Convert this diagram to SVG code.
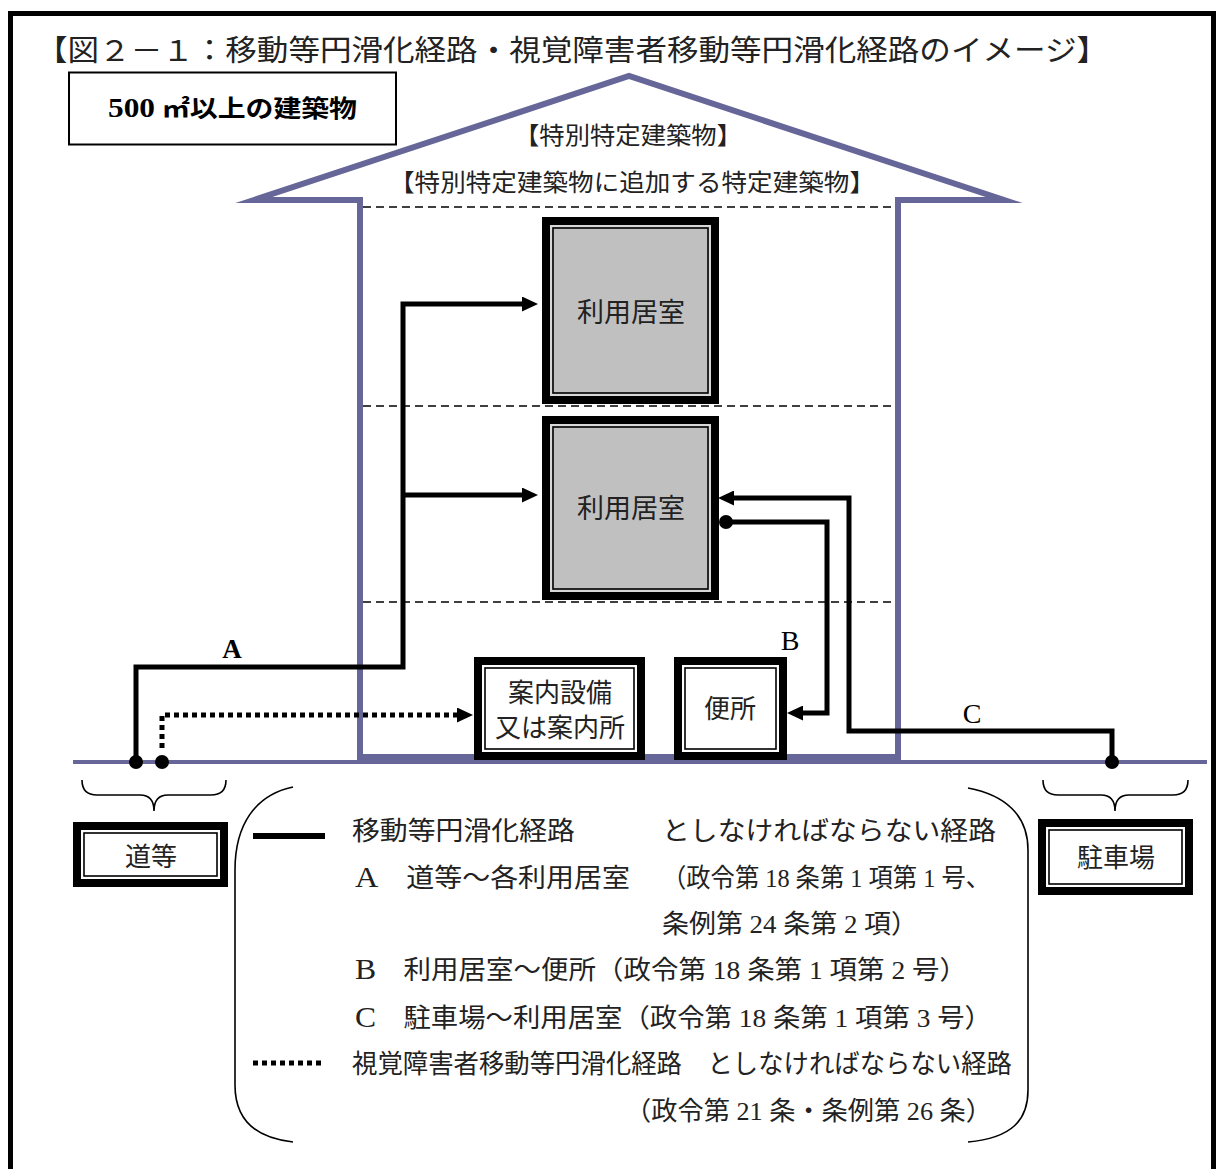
<svg xmlns="http://www.w3.org/2000/svg" width="1219" height="1169" viewBox="0 0 1219 1169">
<defs>
<style>
.jp{font-family:"Noto Sans CJK JP","Liberation Sans",sans-serif;fill:#222}
.mx{font-family:"Liberation Serif","Noto Sans CJK JP",serif;fill:#222}
.mx tspan{font-size:30px}
.lt{font-family:"Liberation Serif","Noto Sans CJK JP",serif;fill:#000}
.path{fill:none;stroke:#000;stroke-width:5;stroke-linejoin:miter}
.dot{fill:none;stroke:#000;stroke-width:5;stroke-dasharray:5 4}
.dash{stroke:#000;stroke-width:1.5;stroke-dasharray:8 5}
.house{fill:none;stroke:#666699;stroke-width:6;stroke-miterlimit:10}
.ob{stroke:#000;stroke-width:8}
.ib{fill:none;stroke:#000;stroke-width:1.6}
.brace{fill:none;stroke:#000;stroke-width:1.6}
</style>
<marker id="arr" viewBox="0 0 16 15" markerWidth="16" markerHeight="15" refX="6" refY="7.5" orient="auto" markerUnits="userSpaceOnUse">
<path d="M0,0 L16,7.5 L0,15 z" fill="#000"/>
</marker>
<marker id="ball" viewBox="0 0 14 14" markerWidth="14" markerHeight="14" refX="7" refY="7" orient="auto" markerUnits="userSpaceOnUse">
<circle cx="7" cy="7" r="7" fill="#000"/>
</marker>
</defs>
<rect x="0" y="0" width="1219" height="1169" fill="#fff"/>
<rect x="10.5" y="13.5" width="1203" height="1200" fill="none" stroke="#000" stroke-width="5"/>

<text class="jp" x="36" y="61" font-size="29" textLength="1072" lengthAdjust="spacingAndGlyphs">【図２－１：移動等円滑化経路・視覚障害者移動等円滑化経路のイメージ】</text>

<g id="building-label">
<rect x="69" y="72.5" width="327" height="72" fill="#fff" stroke="#000" stroke-width="2"/>
<text class="lt" x="108" y="117" font-size="24" font-weight="bold" textLength="249" lengthAdjust="spacingAndGlyphs"><tspan font-size="27">500</tspan> ㎡以上の建築物</text>
</g>

<g id="house">
<polygon class="house" points="360,757 360,200 254,200 629,76 1004,200 898,200 898,757"/>
<line x1="73" y1="762" x2="1207" y2="762" stroke="#666699" stroke-width="4"/>
<line class="dash" x1="363" y1="207" x2="895" y2="207"/>
<line class="dash" x1="363" y1="406" x2="895" y2="406"/>
<line class="dash" x1="363" y1="602" x2="895" y2="602"/>
<text class="jp" x="628" y="144" font-size="24" text-anchor="middle" textLength="228" lengthAdjust="spacingAndGlyphs">【特別特定建築物】</text>
<text class="jp" x="632" y="191" font-size="24" text-anchor="middle" textLength="486" lengthAdjust="spacingAndGlyphs">【特別特定建築物に追加する特定建築物】</text>
</g>

<g id="room1">
<rect class="ob" x="546" y="221" width="169" height="179" fill="#C0C0C0"/>
<rect x="551" y="226" width="159" height="169" fill="none" stroke="#d8d8d8" stroke-width="2"/>
<rect class="ib" x="553" y="228" width="155" height="165"/>
<text class="jp" x="631" y="322" font-size="27" text-anchor="middle">利用居室</text>
</g>

<g id="room2">
<rect class="ob" x="546" y="420" width="169" height="176" fill="#C0C0C0"/>
<rect x="551" y="425" width="159" height="166" fill="none" stroke="#d8d8d8" stroke-width="2"/>
<rect class="ib" x="553" y="427" width="155" height="162"/>
<text class="jp" x="631" y="518" font-size="27" text-anchor="middle">利用居室</text>
</g>

<g id="guide">
<rect class="ob" x="478" y="661" width="163" height="95" fill="#fff"/>
<rect class="ib" x="485" y="668" width="149" height="81"/>
<text class="jp" x="560" y="702" font-size="26" text-anchor="middle">案内設備</text>
<text class="jp" x="560" y="737" font-size="26" text-anchor="middle">又は案内所</text>
</g>

<g id="toilet">
<rect class="ob" x="678" y="661" width="105" height="95" fill="#fff"/>
<rect class="ib" x="685" y="668" width="91" height="81"/>
<text class="jp" x="730" y="718" font-size="26" text-anchor="middle">便所</text>
</g>

<g id="road">
<rect class="ob" x="77" y="826" width="147" height="57" fill="#fff"/>
<rect class="ib" x="84" y="833" width="133" height="43"/>
<text class="jp" x="151" y="866" font-size="26" text-anchor="middle">道等</text>
</g>

<g id="parking">
<rect class="ob" x="1042" y="823" width="147" height="68" fill="#fff"/>
<rect class="ib" x="1049" y="830" width="133" height="54"/>
<text class="jp" x="1116" y="867" font-size="26" text-anchor="middle">駐車場</text>
</g>

<g id="connectors">
<path class="path" d="M136,762 L136,667 L403,667 L403,304 L528,304" marker-start="url(#ball)" marker-end="url(#arr)"/>
<path class="path" d="M403,495 L528,495" marker-end="url(#arr)"/>
<path class="dot" d="M162,748 L162,715 L463,715" marker-end="url(#arr)"/>
<circle cx="162" cy="762" r="7" fill="#000"/>
<path class="path" d="M726,522 L827,522 L827,713 L797,713" marker-start="url(#ball)" marker-end="url(#arr)"/>
<path class="path" d="M1112,762 L1112,731 L849,731 L849,498 L728,498" marker-start="url(#ball)" marker-end="url(#arr)"/>
<text class="lt" x="232" y="658" font-size="27" font-weight="bold" text-anchor="middle">A</text>
<text class="lt" x="790" y="650" font-size="28" text-anchor="middle">B</text>
<text class="lt" x="972" y="723" font-size="28" text-anchor="middle">C</text>
</g>

<g id="braces">
<path class="brace" d="M82,780 Q82,795 97,795 L140,795 Q154,795 154,811 Q154,795 168,795 L211,795 Q226,795 226,780"/>
<path class="brace" d="M1043,780 Q1043,795 1058,795 L1101,795 Q1115,795 1115,811 Q1115,795 1129,795 L1173,795 Q1188,795 1188,780"/>
</g>

<g id="legend">
<path class="brace" d="M293,787 C255,795 235,825 235,870 L235,1085 C235,1120 255,1138 293,1142"/>
<path class="brace" d="M968,788 C1005,795 1028,815 1028,850 L1028,1090 C1028,1120 1012,1138 968,1142"/>
<line x1="253" y1="836" x2="325" y2="836" stroke="#000" stroke-width="6"/>
<line x1="253" y1="1063" x2="323" y2="1063" class="dot"/>
<text class="jp" x="352" y="840" font-size="26" textLength="223" lengthAdjust="spacingAndGlyphs">移動等円滑化経路</text>
<text class="jp" x="662" y="840" font-size="26" textLength="334" lengthAdjust="spacingAndGlyphs">としなければならない経路</text>
<text class="mx" x="355" y="887" font-size="26" textLength="275" lengthAdjust="spacingAndGlyphs"><tspan>A</tspan>　道等～各利用居室</text>
<text class="mx" x="662" y="887" font-size="26" textLength="328" lengthAdjust="spacingAndGlyphs">（政令第 18 条第 1 項第 1 号、</text>
<text class="mx" x="662" y="933" font-size="26" textLength="256" lengthAdjust="spacingAndGlyphs">条例第 24 条第 2 項）</text>
<text class="mx" x="355" y="979" font-size="26" textLength="612" lengthAdjust="spacingAndGlyphs"><tspan>B</tspan>　利用居室～便所（政令第 18 条第 1 項第 2 号）</text>
<text class="mx" x="355" y="1027" font-size="26" textLength="637" lengthAdjust="spacingAndGlyphs"><tspan>C</tspan>　駐車場～利用居室（政令第 18 条第 1 項第 3 号）</text>
<text class="jp" x="352" y="1073" font-size="26" textLength="660" lengthAdjust="spacingAndGlyphs">視覚障害者移動等円滑化経路　としなければならない経路</text>
<text class="mx" x="625" y="1120" font-size="26" textLength="367" lengthAdjust="spacingAndGlyphs">（政令第 21 条・条例第 26 条）</text>
</g>
</svg>
